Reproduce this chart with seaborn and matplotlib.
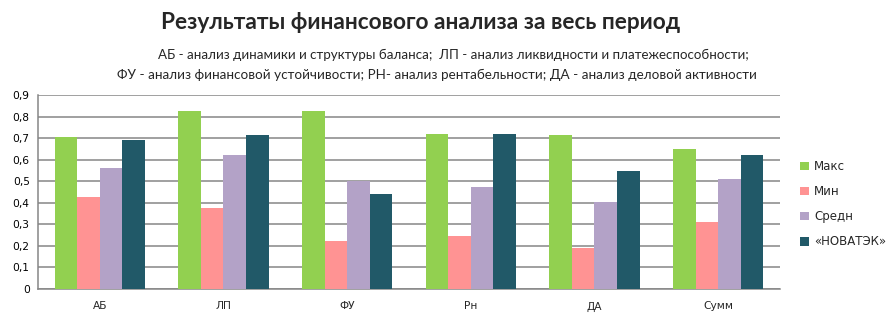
import matplotlib
matplotlib.use("Agg")
import matplotlib.pyplot as plt
from matplotlib.patches import Patch
import seaborn as sns
import pandas as pd

categories = ["АБ", "ЛП", "ФУ", "Рн", "ДА", "Сумм"]
series_names = ["Макс", "Мин", "Средн", "«НОВАТЭК»"]
maks = [0.705, 0.826, 0.826, 0.719, 0.715, 0.650]
mins = [0.428, 0.377, 0.224, 0.247, 0.191, 0.312]
sredn = [0.562, 0.622, 0.500, 0.474, 0.404, 0.511]
novatek = [0.692, 0.715, 0.441, 0.719, 0.548, 0.622]
y_ticks = [0.0, 0.1, 0.2, 0.3, 0.4, 0.5, 0.6, 0.7, 0.8, 0.9]
y_tick_labels = ["0", "0,1", "0,2", "0,3", "0,4", "0,5", "0,6", "0,7", "0,8", "0,9"]

colors = ["#92D050", "#FF9393", "#B3A2C7", "#215968"]

title = "Результаты финансового анализа за весь период"
subtitle1 = "АБ - анализ динамики и структуры баланса;  ЛП - анализ ликвидности и платежеспособности;"
subtitle2 = "ФУ - анализ финансовой устойчивости; РН- анализ рентабельности; ДА - анализ деловой активности"

rows = []
for name, vals in zip(series_names, [maks, mins, sredn, novatek]):
    for cat, v in zip(categories, vals):
        rows.append({"Показатель": cat, "Серия": name, "Значение": v})
df = pd.DataFrame(rows)

sns.set_style("white")
plt.rcParams["font.family"] = ["DejaVu Sans"]

fig = plt.figure(figsize=(8.92, 3.23), dpi=100)
ax = fig.add_axes([0.0426, 0.1053, 0.8318, 0.6006])

sns.barplot(
    data=df, x="Показатель", y="Значение", hue="Серия",
    order=categories, hue_order=series_names, palette=colors,
    width=0.73, saturation=1, errorbar=None, legend=False, ax=ax,
    linewidth=0, edgecolor="none",
)

ax.set_ylim(0, 0.9)
ax.set_xlim(-0.5, len(categories) - 0.5)
ax.set_yticks(y_ticks)
ax.set_yticklabels(y_tick_labels, fontsize=7.7, color="#000000")
ax.tick_params(axis="x", labelsize=7.7, length=0, pad=9)
ax.tick_params(axis="y", length=0, pad=6)
ax.set_xlabel("")
ax.set_ylabel("")
ax.yaxis.grid(True, color="#868686", linewidth=1.1)
ax.set_axisbelow(True)
for side in ["top", "right"]:
    ax.spines[side].set_visible(False)
for side in ["left", "bottom"]:
    ax.spines[side].set_color("#868686")
    ax.spines[side].set_linewidth(1.1)
    ax.spines[side].set_zorder(0.5)

handles = [Patch(facecolor=c, edgecolor="none") for c in colors]
fig.legend(
    handles, series_names, loc="upper left", bbox_to_anchor=(0.885, 0.537),
    frameon=False, fontsize=8.5, handlelength=0.75, handleheight=0.75,
    handletextpad=0.45, labelspacing=1.02,
)

fig.text(0.472, 0.93, title, ha="center", va="center",
         fontsize=16.3, fontweight="bold", family=["Lato", "DejaVu Sans"])
fig.text(0.508, 0.829, subtitle1, ha="center", va="center",
         fontsize=9.6, family=["Lato", "DejaVu Sans"])
fig.text(0.490, 0.767, subtitle2, ha="center", va="center",
         fontsize=9.75, family=["Lato", "DejaVu Sans"])

fig.savefig("out.png", dpi=100)
